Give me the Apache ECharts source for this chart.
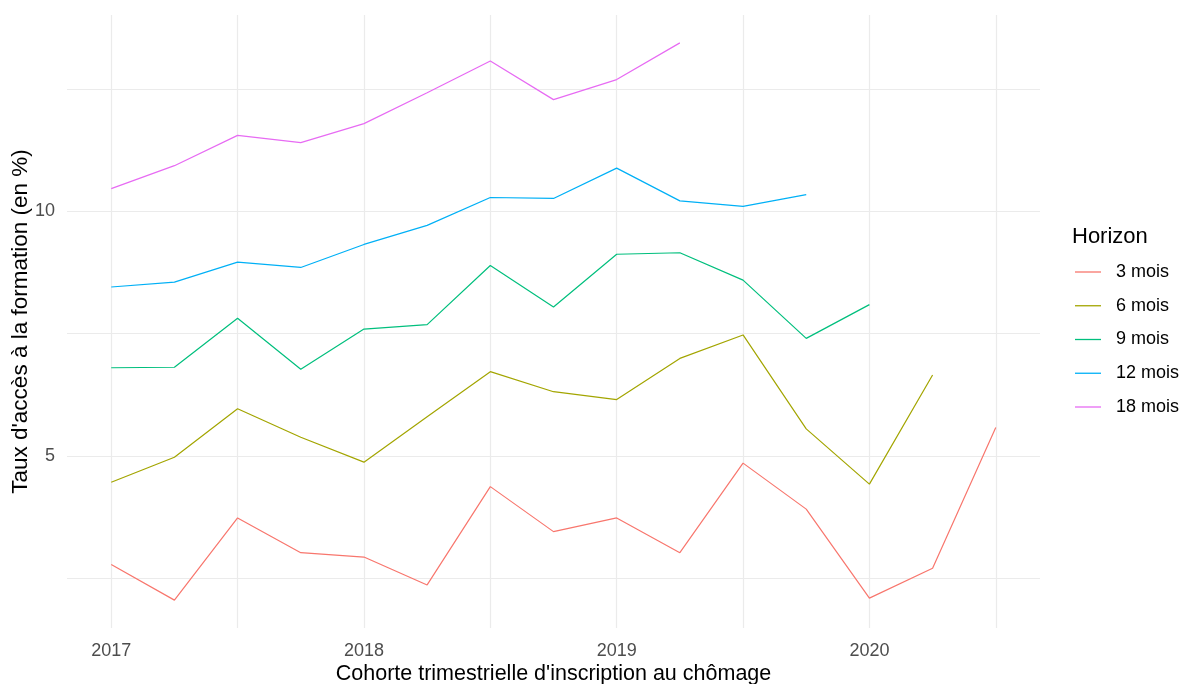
<!DOCTYPE html>
<html lang="fr">
<head>
<meta charset="utf-8">
<title>Taux d'accès à la formation</title>
<script src="https://cdn.jsdelivr.net/npm/echarts@6/dist/echarts.min.js"></script>
<style>
  html, body { margin: 0; padding: 0; background: #fff; }
  #chart { width: 1184px; height: 684px; }
</style>
</head>
<body>
<div id="chart"></div>
<script>
  // cohortes trimestrielles (position en années)
  const trimestres = [2017, 2017.25, 2017.5, 2017.75, 2018, 2018.25, 2018.5, 2018.75,
    2019, 2019.25, 2019.5, 2019.75, 2020, 2020.25, 2020.5];

  const horizons = ["3 mois", "6 mois", "9 mois", "12 mois", "18 mois"];

  const mois3 = [2.78, 2.05, 3.73, 3.02, 2.93, 2.36, 4.37, 3.45, 3.73, 3.02, 4.85, 3.91, 2.09, 2.70, 5.58];
  const mois6 = [4.46, 4.97, 5.96, 5.38, 4.87, 5.80, 6.72, 6.31, 6.15, 6.99, 7.47, 5.55, 4.42, 6.65, null];
  const mois9 = [6.80, 6.81, 7.81, 6.77, 7.59, 7.68, 8.89, 8.04, 9.12, 9.15, 8.59, 7.40, 8.09, null, null];
  const mois12 = [8.45, 8.55, 8.96, 8.85, 9.32, 9.71, 10.28, 10.26, 10.88, 10.21, 10.10, 10.34, null, null, null];
  const mois18 = [10.46, 10.93, 11.55, 11.40, 11.79, 12.42, 13.07, 12.28, 12.69, 13.44, null, null, null, null, null];

  const xGrid = [2017, 2017.5, 2018, 2018.5, 2019, 2019.5, 2020, 2020.5];
  const xLabels = [2017, 2018, 2019, 2020];
  const yGrid = [2.5, 5, 7.5, 10, 12.5];
  const yLabels = [5, 10];

  const couleurs = ["#F8766D", "#A3A500", "#00BF7D", "#00B0F6", "#E76BF3"];
  const font = "'Liberation Sans', Arial, sans-serif";

  function toPoints(values) {
    return trimestres
      .map((t, i) => [t, values[i]])
      .filter(p => p[1] !== null);
  }

  const chart = echarts.init(document.getElementById("chart"), null, { renderer: "canvas" });

  const valeurs = [mois3, mois6, mois9, mois12, mois18];

  chart.setOption({
    animation: false,
    backgroundColor: "#fff",
    color: couleurs,
    textStyle: { fontFamily: font },
    grid: {
      left: 67,
      right: 144,
      top: 15,
      bottom: 56,
      containLabel: false,
      outerBoundsMode: "none"
    },
    title: {
      text: "Horizon",
      left: 1067,
      top: 221,
      textStyle: {
        fontFamily: font,
        fontSize: 22,
        fontWeight: "normal",
        color: "#000"
      }
    },
    legend: {
      orient: "vertical",
      left: 1075,
      top: 263,
      padding: 0,
      icon: "rect",
      itemWidth: 26,
      itemHeight: 1.3,
      itemGap: 15.75,
      data: horizons,
      textStyle: {
        fontFamily: font,
        fontSize: 18,
        color: "#000",
        padding: [0, 0, 0, 10]
      }
    },
    xAxis: {
      type: "value",
      min: 2016.825,
      max: 2020.675,
      name: "Cohorte trimestrielle d'inscription au chômage",
      nameLocation: "middle",
      nameGap: 35,
      nameMoveOverlap: false,
      nameTextStyle: {
        fontFamily: font,
        fontSize: 21.5,
        color: "#000"
      },
      axisLine: { show: false },
      axisTick: { show: false, customValues: xGrid },
      axisLabel: {
        customValues: xLabels,
        formatter: v => String(v),
        margin: 14,
        fontFamily: font,
        fontSize: 18,
        color: "#4D4D4D"
      },
      splitLine: {
        show: true,
        lineStyle: { color: "#EBEBEB", width: 1.2 }
      }
    },
    yAxis: {
      type: "value",
      min: 1.48,
      max: 14.01,
      name: "Taux d'accès à la formation (en %)",
      nameLocation: "middle",
      nameGap: 35,
      nameMoveOverlap: false,
      nameTextStyle: {
        fontFamily: font,
        fontSize: 22.5,
        color: "#000"
      },
      axisLine: { show: false },
      axisTick: { show: false, customValues: yGrid },
      axisLabel: {
        customValues: yLabels,
        margin: 12,
        fontFamily: font,
        fontSize: 18,
        color: "#4D4D4D"
      },
      splitLine: {
        show: true,
        lineStyle: { color: "#EBEBEB", width: 1.2 }
      }
    },
    series: horizons.map((nom, i) => ({
      name: nom,
      type: "line",
      symbol: "none",
      data: toPoints(valeurs[i]),
      lineStyle: { width: 1.2, color: couleurs[i] },
      itemStyle: { color: couleurs[i] }
    }))
  });
</script>
</body>
</html>
